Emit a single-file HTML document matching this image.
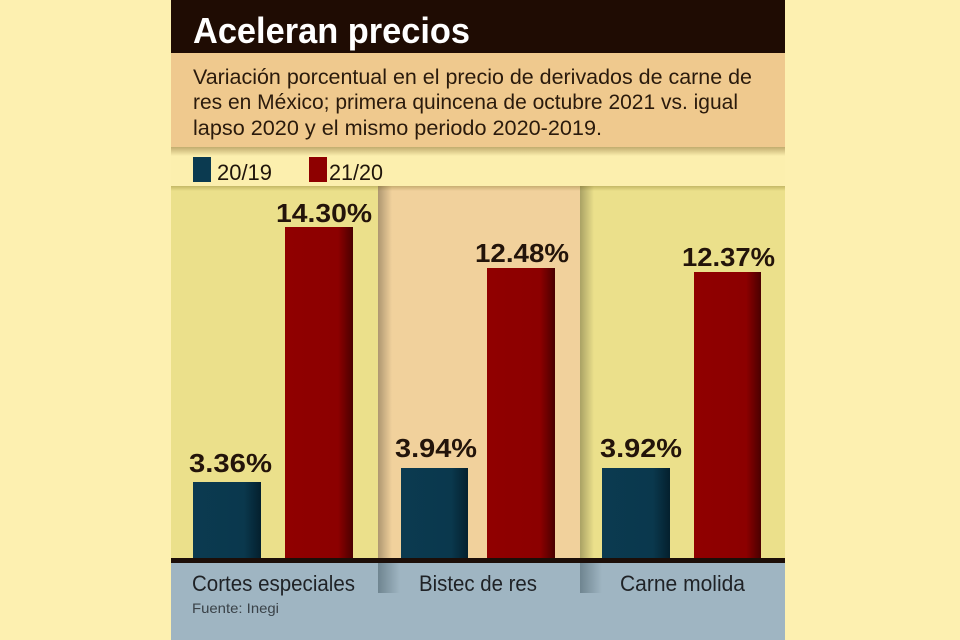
<!DOCTYPE html>
<html><head><meta charset="utf-8"><style>
html,body{margin:0;padding:0;background:#fdf0b0;}
svg{display:block;}
</style></head><body>
<svg width="960" height="640" viewBox="0 0 960 640" xmlns="http://www.w3.org/2000/svg" font-family="'Liberation Sans', sans-serif">
<defs>
<linearGradient id="barR" x1="0" x2="1" y1="0" y2="0">
<stop offset="0" stop-color="#900000"/><stop offset="0.78" stop-color="#8c0000"/><stop offset="1" stop-color="#4a0000"/></linearGradient>
<linearGradient id="barB" x1="0" x2="1" y1="0" y2="0">
<stop offset="0" stop-color="#0b3a50"/><stop offset="0.75" stop-color="#0a384d"/><stop offset="1" stop-color="#04202e"/></linearGradient>
<linearGradient id="colSh" x1="0" x2="1" y1="0" y2="0">
<stop offset="0" stop-color="#000" stop-opacity="0.28"/><stop offset="1" stop-color="#000" stop-opacity="0"/></linearGradient>
<linearGradient id="subSh" x1="0" x2="0" y1="0" y2="1">
<stop offset="0" stop-color="#7a5a20" stop-opacity="0.45"/><stop offset="1" stop-color="#7a5a20" stop-opacity="0"/></linearGradient>
<linearGradient id="legSh" x1="0" x2="0" y1="0" y2="1">
<stop offset="0" stop-color="#6a5a10" stop-opacity="0.3"/><stop offset="1" stop-color="#6a5a10" stop-opacity="0"/></linearGradient>
<linearGradient id="botSh" x1="0" x2="1" y1="0" y2="0">
<stop offset="0" stop-color="#6f8590"/><stop offset="1" stop-color="#9fb5c2"/></linearGradient>
</defs>
<rect x="0" y="0" width="960" height="640" fill="#fdf0b0"/>
<!-- title -->
<rect x="171" y="0" width="614" height="53" fill="#1f0c03"/>
<text x="193" y="43" font-size="36" font-weight="bold" fill="#ffffff" textLength="277" lengthAdjust="spacingAndGlyphs">Aceleran precios</text>
<!-- subtitle -->
<rect x="171" y="53" width="614" height="94" fill="#efc98e"/>
<g font-size="21" fill="#2a1a0c">
<text x="193" y="84" textLength="559" lengthAdjust="spacingAndGlyphs">Variación porcentual en el precio de derivados de carne de</text>
<text x="193" y="109" textLength="545" lengthAdjust="spacingAndGlyphs">res en México; primera quincena de octubre 2021 vs. igual</text>
<text x="193" y="135" textLength="409" lengthAdjust="spacingAndGlyphs">lapso 2020 y el mismo periodo 2020-2019.</text>
</g>
<!-- legend strip -->
<rect x="171" y="147" width="614" height="39" fill="#fcefae"/>
<rect x="171" y="147" width="614" height="9" fill="url(#subSh)"/>
<rect x="193" y="157" width="18" height="25" fill="#0b3a50"/>
<text x="217" y="180" font-size="22" fill="#1f140a" textLength="55" lengthAdjust="spacingAndGlyphs">20/19</text>
<rect x="309" y="157" width="18" height="25" fill="#8e0000"/>
<text x="329" y="180" font-size="22" fill="#1f140a" textLength="54" lengthAdjust="spacingAndGlyphs">21/20</text>
<!-- columns -->
<rect x="171" y="186" width="207" height="373" fill="#ebe08b"/>
<rect x="378" y="186" width="202" height="373" fill="#f1d19c"/>
<rect x="580" y="186" width="205" height="373" fill="#ebe08b"/>
<rect x="378" y="186" width="14" height="373" fill="url(#colSh)"/>
<rect x="580" y="186" width="14" height="373" fill="url(#colSh)"/>
<rect x="171" y="186" width="614" height="5" fill="url(#legSh)"/>
<!-- bars -->
<rect x="285" y="227" width="68" height="332" fill="url(#barR)"/>
<rect x="193" y="482" width="68" height="77" fill="url(#barB)"/>
<rect x="487" y="268" width="68" height="291" fill="url(#barR)"/>
<rect x="401" y="468" width="67" height="91" fill="url(#barB)"/>
<rect x="694" y="272" width="67" height="287" fill="url(#barR)"/>
<rect x="602" y="468" width="68" height="91" fill="url(#barB)"/>
<!-- labels -->
<g font-size="26" font-weight="bold" fill="#23140a">
<text x="276" y="222" textLength="96" lengthAdjust="spacingAndGlyphs">14.30%</text>
<text x="189" y="472" textLength="83" lengthAdjust="spacingAndGlyphs">3.36%</text>
<text x="475" y="262" textLength="94" lengthAdjust="spacingAndGlyphs">12.48%</text>
<text x="395" y="457" textLength="82" lengthAdjust="spacingAndGlyphs">3.94%</text>
<text x="682" y="266" textLength="93" lengthAdjust="spacingAndGlyphs">12.37%</text>
<text x="600" y="457" textLength="82" lengthAdjust="spacingAndGlyphs">3.92%</text>
</g>
<!-- baseline -->
<rect x="171" y="558" width="614" height="5" fill="#1c0e08"/>
<!-- bottom -->
<rect x="171" y="563" width="614" height="77" fill="#9fb5c2"/>
<rect x="378" y="563" width="22" height="30" fill="url(#botSh)"/>
<rect x="580" y="563" width="22" height="30" fill="url(#botSh)"/>
<g font-size="22" fill="#1f2226">
<text x="192" y="591" textLength="163" lengthAdjust="spacingAndGlyphs">Cortes especiales</text>
<text x="419" y="591" textLength="118" lengthAdjust="spacingAndGlyphs">Bistec de res</text>
<text x="620" y="591" textLength="125" lengthAdjust="spacingAndGlyphs">Carne molida</text>
</g>
<text x="192" y="613" font-size="14" fill="#3a4248" textLength="87" lengthAdjust="spacingAndGlyphs">Fuente: Inegi</text>
</svg>
</body></html>
